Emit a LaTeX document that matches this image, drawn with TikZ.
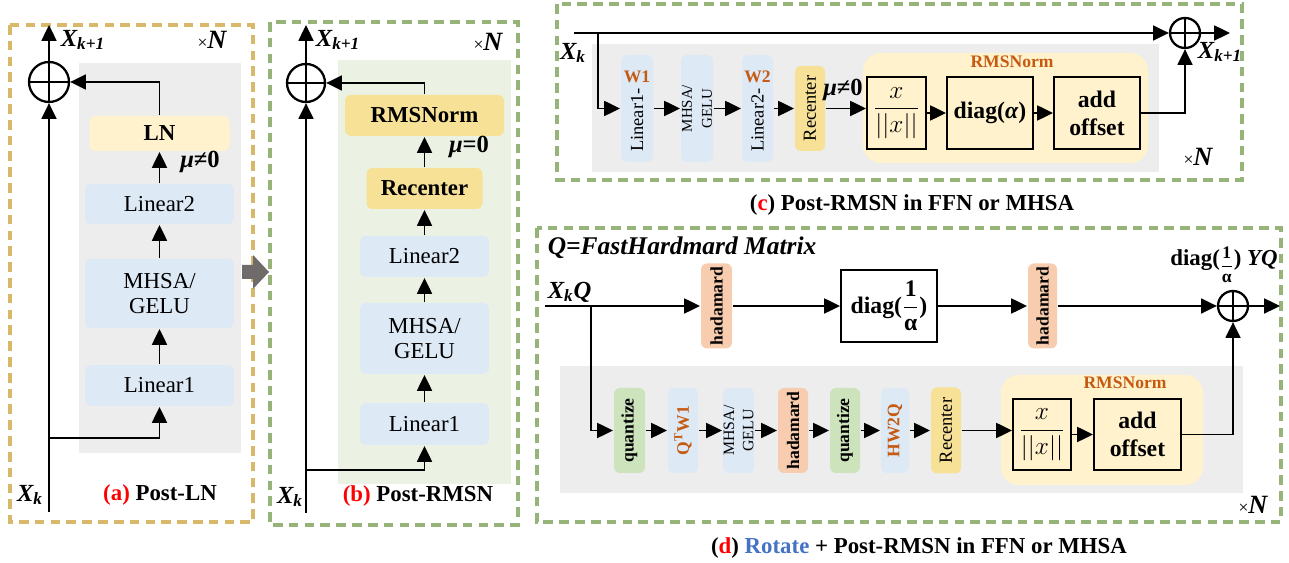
\documentclass[tikz,border=0pt]{standalone}
\usepackage{fontspec}
\setmainfont{Liberation Serif}
\usepackage{amsmath}
\usetikzlibrary{arrows.meta,positioning,calc}

\newdimen\pxl
\pxl=0.02cm

\definecolor{dashgold}{RGB}{215,185,105}
\definecolor{dashgreen}{RGB}{150,180,120}
\definecolor{bggray}{RGB}{237,237,237}
\definecolor{bggreen}{RGB}{235,242,228}
\definecolor{lblue}{RGB}{222,233,246}
\definecolor{paleyel}{RGB}{255,242,204}
\definecolor{midyel}{RGB}{246,225,150}
\definecolor{salmon}{RGB}{248,204,174}
\definecolor{qgreen}{RGB}{204,227,188}
\definecolor{orng}{RGB}{197,90,17}
\definecolor{rotblue}{RGB}{68,114,196}
\definecolor{arrgray}{RGB}{112,107,107}

\newcommand{\timesN}{{\fontsize{10}{12}\selectfont ×}{\fontsize{15}{17}\selectfont\bfseries\itshape N}}

\begin{document}
\begin{tikzpicture}
[x=0.02cm, y=-0.02cm,
line width=1.1pt,
arr/.style={-{Triangle[length=9pt,width=8.5pt]}},
%
blk/.style 2 args={rounded corners=6\pxl, inner sep=0pt, minimum width=#1\pxl, minimum height=#2\pxl, align=center},
vblk/.style 2 args={blk={#2}{#1}, rotate=90},
opbox/.style 2 args={draw, line width=1.1pt, inner sep=0pt, minimum width=#1\pxl, minimum height=#2\pxl, align=center},
sumnode/.style={circle, draw, line width=1.3pt, inner sep=0pt, minimum size=#1\pxl,
  path picture={\draw[line width=1.3pt] (path picture bounding box.north) -- (path picture bounding box.south)
    (path picture bounding box.west) -- (path picture bounding box.east);}},
dashA/.style={draw=dashgold, line width=2pt, dash pattern=on 5.5pt off 3.5pt},
dashB/.style={draw=dashgreen, line width=2pt, dash pattern=on 5.5pt off 3.5pt},
%
txt/.style={font=\fontsize{13}{14}\selectfont},
txtb/.style={font=\fontsize{13}{14}\selectfont\bfseries},
bigb/.style={font=\fontsize{13.5}{16}\selectfont\bfseries},
txtbi/.style={font=\fontsize{14}{16}\selectfont\bfseries\itshape},
stxt/.style={font=\fontsize{10.5}{12}\selectfont},
stxtb/.style={font=\fontsize{10}{12}\selectfont\bfseries},
tiny/.style={font=\fontsize{8.5}{11.5}\selectfont},
mth/.style={font=\fontsize{14}{16}\selectfont}]

\useasboundingbox (0,0) rectangle (1289,563);

% (a) Post-LN
\draw[dashA] (10,25) rectangle (253,522);
\fill[bggray] (79,63) rectangle (241,453);
\node[sumnode=40] (pla) at (49,82) {};
\node[blk={140}{35}, fill=paleyel, txtb] (lna) at (159.5,133.5) {LN};
\node[blk={149}{40}, fill=lblue, txt] (l2a) at (159.5,204) {Linear2};
\node[blk={149}{69}, fill=lblue, txt] (mha) at (159.5,293.5) {MHSA/\\GELU};
\node[blk={149}{41}, fill=lblue, txt] (l1a) at (159.5,385.5) {Linear1};
\coordinate (ina) at (49,512);
\coordinate (outa) at (49,25);
\coordinate (bra) at (49,438);
\draw[arr] (ina) -- (pla);
\draw[arr] (pla) -- (outa);
\draw[arr] (bra) -| (l1a);
\draw[arr] (l1a) -- (mha);
\draw[arr] (mha) -- (l2a);
\draw[arr] (l2a) -- (lna);
\draw[arr] (lna) |- (pla);
\node[txtbi] (xk1a) at (83,40) {X\textsubscript{k+1}};
\node (na) at (212,40) {\timesN};
\node[txtbi] (mua) at (200,162) {μ\bfseries\upshape ≠0};
\node[txtbi] (xka) at (30,495) {X\textsubscript{k}};
\node[txtb] (capa) at (160,495) {\textcolor{red}{(a)} Post-LN};

% arrow between (a) and (b)
\fill[arrgray] (242,265) -- (253,265) -- (253,255) -- (269,272) -- (253,289) -- (253,279) -- (242,279) -- cycle;

% (b) Post-RMSN
\draw[dashB] (270,22) rectangle (518,525);
\fill[bggreen] (338,60) rectangle (511,484);
\node[sumnode=38] (plb) at (306,83) {};
\node[blk={159}{41}, fill=midyel, txtb] (rmsb) at (424.5,115.5) {RMSNorm};
\node[blk={116}{41}, fill=midyel, txtb] (recb) at (424.5,188.5) {Recenter};
\node[blk={129}{41}, fill=lblue, txt] (l2b) at (424.5,256.5) {Linear2};
\node[blk={129}{71}, fill=lblue, txt] (mhb) at (424.5,338.5) {MHSA/\\GELU};
\node[blk={129}{42}, fill=lblue, txt] (l1b) at (424.5,424) {Linear1};
\coordinate (inb) at (306,513);
\coordinate (outb) at (306,25);
\coordinate (brb) at (306,470);
\draw[arr] (inb) -- (plb);
\draw[arr] (plb) -- (outb);
\draw[arr] (brb) -| (l1b);
\draw[arr] (l1b) -- (mhb);
\draw[arr] (mhb) -- (l2b);
\draw[arr] (l2b) -- (recb);
\draw[arr] (recb) -- (rmsb);
\draw[arr] (rmsb) |- (plb);
\node[txtbi] (xk1b) at (338,40) {X\textsubscript{k+1}};
\node (nb) at (488,42) {\timesN};
\node[txtbi] (mub) at (469,147) {μ\bfseries\upshape =0};
\node[txtbi] (xkb) at (290,497) {X\textsubscript{k}};
\node[txtb] (capb) at (418,496) {\textcolor{red}{(b)} Post-RMSN};

% (c) Post-RMSN in FFN or MHSA
\draw[dashB] (557,4) rectangle (1242,180);
\fill[bggray] (592,44) rectangle (1159,172);
\node[sumnode=30] (plc) at (1185,33) {};
\coordinate (inc) at (574,33);
\coordinate (brc) at (598,33);
\coordinate (outc) at (1230,33);
\node[vblk={32}{107}, fill=lblue, stxt, text width=87\pxl, align=left] (l1c) at (637,108.5) {Linear1-};
\node[stxtb, text=orng] (w1c) at (637,77) {W1};
\node[vblk={32}{107}, fill=lblue, tiny] (mhc) at (697,108.5) {MHSA/\\GELU};
\node[vblk={31}{107}, fill=lblue, stxt, text width=87\pxl, align=left] (l2c) at (757.5,108.5) {Linear2-};
\node[stxtb, text=orng] (w2c) at (757.5,77) {W2};
\node[vblk={30}{85}, fill=midyel, stxt] (recc) at (810,108.5) {Recenter};
\node[blk={285}{110}, fill=paleyel, rounded corners=18\pxl] (rmsc) at (1005.5,108) {};
\node[stxtb, text=orng] (rmscl) at (1012,62) {RMSNorm};
\node[opbox={59}{72}, mth] (xnc) at (896.5,113) {$\dfrac{x}{||x||}$};
\node[opbox={86}{72}, bigb] (dgc) at (990,113) {diag(\textit{α})};
\node[opbox={86}{72}, bigb] (adc) at (1097,113) {add\\offset};
\draw[arr] (inc) -- (plc);
\draw[arr] (brc) |- (l1c);
\draw[arr] (l1c) -- (mhc);
\draw[arr] (mhc) -- (l2c);
\draw[arr] (l2c) -- (recc);
\draw[arr] (recc) -- (recc -| xnc.west);
\draw[arr] (xnc) -- (dgc);
\draw[arr] (dgc) -- (adc);
\draw[arr] (adc.east) -| (plc);
\draw[arr] (plc) -- (outc);
\node[txtbi] (xkc) at (573,53) {X\textsubscript{k}};
\node[txtbi] (xk1c) at (1220,52) {X\textsubscript{k+1}};
\node[txtbi] (muc) at (843,90) {μ\bfseries\upshape ≠0};
\node (nc) at (1198,157) {\timesN};
\node[txtb] (capc) at (912,205) {(\textcolor{red}{c}) Post-RMSN in FFN or MHSA};

% (d) Rotate + Post-RMSN
\draw[dashB] (537,228) rectangle (1281,522);
\fill[bggray] (560,366) rectangle (1243,493);
\node[txtbi, anchor=west, font=\fontsize{14.5}{16}\selectfont\bfseries\itshape] (qdef) at (541,248) {Q=FastHardmard Matrix};
\node[txtbi, anchor=west] (xqd) at (541,292) {X\textsubscript{k}Q};
\coordinate (ind) at (545,306);
\coordinate (brd) at (591,306);
\coordinate (outd) at (1280,306);
\node[sumnode=30] (pld) at (1233,306) {};
\node[vblk={31}{85}, fill=salmon, stxtb] (h1d) at (716.5,306) {hadamard};
\node[opbox={96}{72}, fill=white, bigb] (dgd) at (889,306) {diag($\dfrac{\text{1}}{\text{α}}$)};
\node[vblk={29}{85}, fill=salmon, stxtb] (h2d) at (1042.5,306) {hadamard};
\node[txtb] (ydl) at (1224,265) {diag(\raisebox{-0.5ex}{\fontsize{10}{12}\selectfont$\genfrac{}{}{0.8pt}{0}{\text{1}}{\text{α}}$}) \textit{YQ}};
\node[vblk={31}{85}, fill=qgreen, stxtb] (q1d) at (629.5,430.5) {quantize};
\node[vblk={30}{85}, fill=lblue, stxtb, text=orng] (qwd) at (683,430.5) {Q\textsuperscript{T}W1};
\node[vblk={31}{85}, fill=lblue, tiny, font=\fontsize{9}{11}\selectfont] (mhd) at (738.5,430.5) {MHSA/\\GELU};
\node[vblk={30}{85}, fill=salmon, stxtb] (hd) at (793,430.5) {hadamard};
\node[vblk={30}{85}, fill=qgreen, stxtb] (q2d) at (845,430.5) {quantize};
\node[vblk={28}{85}, fill=lblue, stxtb, text=orng] (hwd) at (895,430.5) {HW2Q};
\node[vblk={30}{86}, fill=midyel, stxt] (recd) at (946,430.5) {Recenter};
\node[blk={202}{110}, fill=paleyel, rounded corners=18\pxl] (rmsd) at (1102,430) {};
\node[stxtb, text=orng] (rmsdl) at (1125,383) {RMSNorm};
\node[opbox={58}{71}, mth] (xnd) at (1042,434.5) {$\dfrac{x}{||x||}$};
\node[opbox={87}{71}, bigb] (add) at (1137.5,434.5) {add\\offset};
\draw[arr] (ind) -- (h1d);
\draw[arr] (h1d) -- (dgd);
\draw[arr] (dgd) -- (h2d);
\draw[arr] (h2d) -- (pld);
\draw[arr] (pld) -- (outd);
\draw[arr] (brd) |- (q1d);
\draw[arr] (q1d) -- (qwd);
\draw[arr] (qwd) -- (mhd);
\draw[arr] (mhd) -- (hd);
\draw[arr] (hd) -- (q2d);
\draw[arr] (q2d) -- (hwd);
\draw[arr] (hwd) -- (recd);
\draw[arr] (recd) -- (recd -| xnd.west);
\draw[arr] (xnd) -- (add);
\draw[arr] (add.east) -| (pld);
\node (nd) at (1253,505) {\timesN};
\node[txtb] (capd) at (919,548) {(\textcolor{red}{d}) \textcolor{rotblue}{Rotate} + Post-RMSN in FFN or MHSA};

\end{tikzpicture}
\end{document}
